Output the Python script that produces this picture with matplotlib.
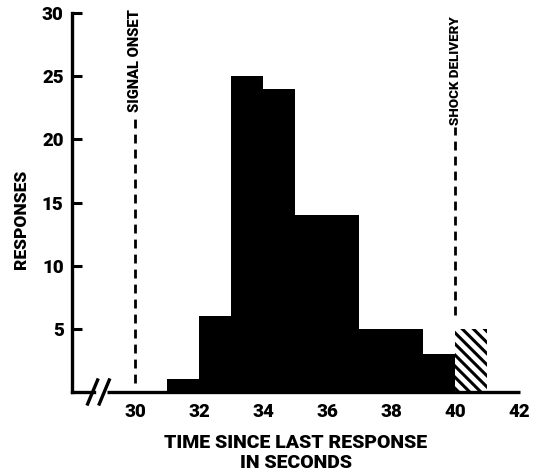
import matplotlib
matplotlib.use("Agg")
import matplotlib.pyplot as plt

# ---- data ----
bin_starts = [31, 32, 33, 34, 35, 36, 37, 38, 39]
responses = [1, 6, 25, 24, 14, 14, 5, 5, 3]
shock_bin_start = [40]
shock_responses = [5]
signal_onset = 30
shock_delivery = 40
x_ticks = [30, 32, 34, 36, 38, 40, 42]
y_ticks = [5, 10, 15, 20, 25, 30]

FONT = ['Roboto', 'DejaVu Sans']
W = 'black'
plt.rcParams['font.family'] = FONT
plt.rcParams['font.weight'] = W
plt.rcParams['hatch.linewidth'] = 2.2
plt.rcParams['hatch.color'] = 'black'

fig = plt.figure(figsize=(5.39, 4.76), dpi=100)
ax = fig.add_axes([72/539, (476-392)/476, 448/539, 379/476])

edges = bin_starts + [bin_starts[-1] + 1]
ax.stairs(responses, edges, fill=True, color='black', baseline=0)
ax.bar(shock_bin_start, shock_responses, width=1.0, align='edge',
       facecolor='white', edgecolor='black', linewidth=0, hatch='\\\\\\')

# reference lines
ax.plot([signal_onset, signal_onset], [0.7, 22.1], color='black', lw=2.0,
        dashes=(3.2, 2.2))
ax.text(signal_onset, 22.2, 'SIGNAL ONSET', rotation=90, ha='center',
        va='bottom', fontsize=10.6, fontweight=W)
ax.plot([shock_delivery, shock_delivery], [6.1, 21.0], color='black', lw=2.0,
        dashes=(3.2, 2.2))
ax.text(shock_delivery, 21.1, 'SHOCK DELIVERY', rotation=90, ha='center',
        va='bottom', fontsize=9.6, fontweight=W)

ax.set_xlim(28.03, 42.03)
ax.set_ylim(0, 30)

ax.set_xticks(x_ticks)
ax.set_xticklabels([str(t) for t in x_ticks], fontsize=13.5, fontweight=W)
ax.set_yticks(y_ticks)
ax.set_yticklabels([str(t) for t in y_ticks], fontsize=13.5, fontweight=W)
ax.tick_params(axis='x', length=0, pad=8)
ax.tick_params(axis='y', direction='in', length=7, width=2.2, pad=6)

for s in ['top', 'right', 'bottom']:
    ax.spines[s].set_visible(False)
ax.spines['left'].set_linewidth(2.4)
ax.spines['left'].set_capstyle('projecting')

# broken x axis baseline
lw = 2.4
ax.plot([0, 0.050], [0, 0], transform=ax.transAxes, color='black', lw=lw,
        clip_on=False, solid_capstyle='projecting')
ax.plot([0.079, 1.0], [0, 0], transform=ax.transAxes, color='black', lw=lw,
        clip_on=False, solid_capstyle='butt')
dx = 5/448
dy = 12/379
for cx in [0.046, 0.072]:
    ax.plot([cx - dx, cx + dx], [-dy, dy], transform=ax.transAxes,
            color='black', lw=2.4, clip_on=False)

ax.set_xlabel('TIME SINCE LAST RESPONSE\nIN SECONDS', fontsize=14,
              fontweight=W, labelpad=9, linespacing=1.2)
ax.set_ylabel('RESPONSES', fontsize=12.5, fontweight=W)
ax.yaxis.set_label_coords(-0.095, (392 - 219) / 379)

fig.savefig('out.png', dpi=100)
